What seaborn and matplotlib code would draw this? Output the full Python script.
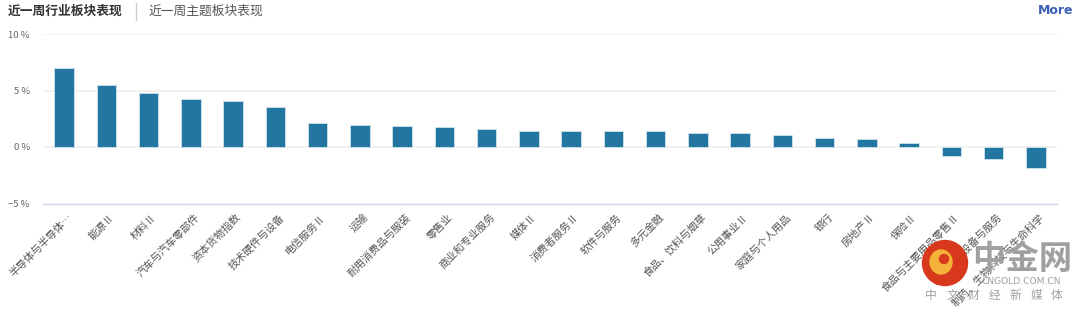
import matplotlib
matplotlib.use("Agg")
import matplotlib.pyplot as plt
import matplotlib.transforms as mtransforms
from matplotlib.lines import Line2D
from matplotlib.patches import Ellipse
import seaborn as sns
import pandas as pd

categories = ['半导体与半导体…', '能源Ⅱ', '材料Ⅱ', '汽车与汽车零部件', '资本货物指数',
              '技术硬件与设备', '电信服务Ⅱ', '运输', '耐用消费品与服装', '零售业',
              '商业和专业服务', '媒体Ⅱ', '消费者服务Ⅱ', '软件与服务', '多元金融',
              '食品、饮料与烟草', '公用事业Ⅱ', '家庭与个人用品', '银行', '房地产Ⅱ',
              '保险Ⅱ', '食品与主要用品零售Ⅱ', '医疗保健设备与服务', '制药、生物科技与生命科学']
values = [7.03, 5.53, 4.79, 4.21, 4.06, 3.53, 2.12, 1.94, 1.85, 1.76, 1.62, 1.44,
          1.44, 1.44, 1.44, 1.26, 1.26, 1.09, 0.79, 0.74, 0.35, -0.82, -1.06, -1.88]
y_ticks = [-5, 0, 5, 10]
y_tick_labels = ['−5 %', '0 %', '5 %', '10 %']
tab_active = '近一周行业板块表现'
tab_other = '近一周主题板块表现'
wm_name = '中金网'
wm_site = 'CNGOLD.COM.CN'
wm_slogan = ['中', '文', '财', '经', '新', '媒', '体']

sns.set_style("white")
plt.rcParams['font.family'] = ['Noto Sans CJK SC', 'DejaVu Sans']

df = pd.DataFrame({'cat': categories, 'val': values})

W, H = 1080, 313
fig = plt.figure(figsize=(W / 100, H / 100), dpi=100)
ax = fig.add_axes([43 / W, 1 - 203.5 / H, (1057 - 43) / W, (203.5 - 34) / H])

sns.barplot(data=df, x='cat', y='val', color='#22769f', saturation=1, width=0.46,
            edgecolor='#cfe3ee', linewidth=0.6, ax=ax, zorder=3)

ax.set_xlim(-0.5, len(categories) - 0.5)
ax.set_ylim(-5, 10)
ax.set_xlabel('')
ax.set_ylabel('')
ax.set_yticks(y_ticks)
ax.set_yticklabels(y_tick_labels, fontsize=6.8, color='#666666')
for g in [0, 5, 10]:
    ax.axhline(g, color='#efefef', lw=1.2, zorder=1)

for s in ['top', 'right', 'left']:
    ax.spines[s].set_visible(False)
ax.spines['bottom'].set_color('#ccd6eb')
ax.spines['bottom'].set_linewidth(1.0)
ax.tick_params(axis='y', length=0, pad=9.5)

ax.set_xticks(range(len(categories)))
ax.set_xticklabels(categories, rotation=45, ha='right', rotation_mode='anchor',
                   fontsize=7.6, color='#555555')
ax.tick_params(axis='x', which='major', length=0, pad=6)
offset = mtransforms.ScaledTranslation(3 / 100, 0, fig.dpi_scale_trans)
for lab in ax.get_xticklabels():
    lab.set_transform(lab.get_transform() + offset)
ax.set_xticks([i + 0.5 for i in range(-1, len(categories))], minor=True)
ax.tick_params(axis='x', which='minor', length=8, color='#ccd6eb', width=1.0)

# header
fig.text(8 / W, 1 - 11 / H, tab_active, fontsize=9.2, fontweight='bold',
         color='#333333', va='center', ha='left')
fig.add_artist(Line2D([136 / W, 136 / W], [1 - 3 / H, 1 - 20 / H],
                      color='#cccccc', lw=1))
fig.text(148 / W, 1 - 11 / H, tab_other, fontsize=9.2, color='#555555',
         va='center', ha='left')
fig.text(1073 / W, 1 - 10 / H, 'More', fontsize=9, fontweight='bold',
         color='#3d5eb5', va='center', ha='right', family=['DejaVu Sans'])

# watermark
fig.add_artist(Ellipse((945 / W, 1 - 263 / H), 45 / W, 45 / H, transform=fig.transFigure,
                       color='#d8391c', zorder=10))
fig.add_artist(Ellipse((941 / W, 1 - 262 / H), 22 / W, 24 / H, transform=fig.transFigure,
                       color='#f5b23a', zorder=11))
fig.add_artist(Ellipse((944 / W, 1 - 259 / H), 9 / W, 9 / H, transform=fig.transFigure,
                       color='#d8391c', zorder=12))
fig.text(1022 / W, 1 - 259 / H, wm_name, fontsize=24, fontweight='bold',
         color='#a0a0a0', ha='center', va='center', zorder=10)
fig.text(1021 / W, 1 - 282 / H, wm_site, fontsize=6.6, color='#a0a0a0',
         ha='center', va='center', zorder=10, family=['DejaVu Sans'])
for i, ch in enumerate(wm_slogan):
    fig.text((931 + 21 * i) / W, 1 - 295 / H, ch, fontsize=8.5, color='#a0a0a0',
             ha='center', va='center', zorder=10)

fig.savefig('out.png', dpi=100)
